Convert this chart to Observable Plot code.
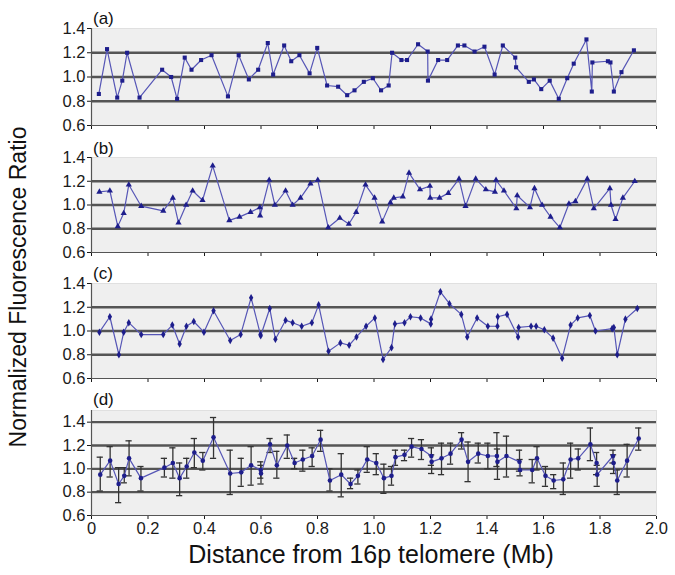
<!DOCTYPE html>
<html><head><meta charset="utf-8">
<script src="https://cdn.jsdelivr.net/npm/d3@7"></script>
<script src="https://cdn.jsdelivr.net/npm/@observablehq/plot@0.6"></script>
<style>
body{margin:0;background:#fff;}
#chart{position:relative;width:675px;height:575px;font-family:"Liberation Sans",Arial,sans-serif;overflow:hidden;}
.panel{position:absolute;left:0;}
.lab{position:absolute;font-size:17px;line-height:1;color:#111;white-space:nowrap;}
</style></head><body><div id="chart"></div>
<script>
// ---- data ----
const xTicks = [0,0.2,0.4,0.6,0.8,1.0,1.2,1.4,1.6,1.8,2.0];
const yTicks = [0.6,0.8,1.0,1.2,1.4];
const panelLabels = ["(a)","(b)","(c)","(d)"];
const yTitle = "Normalized Fluorescence Ratio";
const xTitle = "Distance from 16p telomere (Mb)";

const xA = [0.026,0.055,0.091,0.109,0.126,0.170,0.250,0.282,0.303,0.330,0.354,0.388,0.425,0.483,0.521,0.557,0.590,0.624,0.643,0.682,0.707,0.736,0.772,0.799,0.834,0.873,0.905,0.931,0.964,0.996,1.025,1.052,1.064,1.097,1.117,1.156,1.190,1.191,1.227,1.259,1.297,1.320,1.356,1.391,1.427,1.456,1.500,1.503,1.548,1.566,1.592,1.622,1.654,1.684,1.707,1.752,1.771,1.773,1.828,1.837,1.849,1.876,1.920];
const yA = [0.86,1.23,0.83,0.97,1.20,0.83,1.06,1.00,0.82,1.16,1.06,1.14,1.18,0.84,1.18,0.98,1.06,1.28,1.02,1.26,1.13,1.18,1.03,1.24,0.93,0.92,0.85,0.89,0.96,0.99,0.89,0.93,1.20,1.14,1.14,1.27,1.21,0.97,1.14,1.14,1.26,1.26,1.21,1.25,1.02,1.26,1.16,1.08,0.96,0.98,0.90,0.97,0.82,0.99,1.11,1.31,0.88,1.12,1.13,1.12,0.88,1.04,1.22];

const xB = [0.028,0.065,0.093,0.114,0.132,0.176,0.254,0.288,0.308,0.335,0.358,0.393,0.429,0.488,0.524,0.563,0.596,0.597,0.629,0.649,0.687,0.712,0.740,0.775,0.801,0.838,0.879,0.911,0.937,0.970,1.002,1.029,1.058,1.070,1.102,1.124,1.163,1.198,1.199,1.232,1.263,1.301,1.324,1.360,1.396,1.428,1.432,1.460,1.504,1.507,1.552,1.568,1.595,1.625,1.658,1.690,1.713,1.755,1.778,1.835,1.839,1.855,1.881,1.923];
const yB = [1.11,1.12,0.82,0.93,1.17,0.99,0.95,1.06,0.85,1.00,1.12,1.04,1.33,0.87,0.90,0.94,0.98,0.91,1.21,1.00,1.12,1.00,1.06,1.18,1.21,0.81,0.89,0.84,0.94,1.17,1.06,0.86,1.02,1.06,1.07,1.27,1.13,1.16,1.06,1.06,1.10,1.22,0.99,1.22,1.13,1.11,1.21,1.12,0.97,1.08,0.98,1.14,1.00,0.90,0.81,1.01,1.03,1.22,0.97,1.14,1.00,0.88,1.06,1.20];

const xC = [0.028,0.065,0.097,0.114,0.132,0.176,0.254,0.286,0.312,0.336,0.362,0.398,0.432,0.491,0.528,0.565,0.598,0.599,0.631,0.651,0.687,0.712,0.744,0.780,0.804,0.839,0.881,0.912,0.938,0.972,1.003,1.032,1.062,1.074,1.108,1.129,1.165,1.201,1.202,1.235,1.267,1.309,1.330,1.365,1.403,1.437,1.438,1.471,1.510,1.512,1.556,1.574,1.603,1.634,1.666,1.696,1.721,1.764,1.784,1.843,1.849,1.861,1.890,1.932];
const yC = [0.99,1.12,0.80,0.99,1.07,0.97,0.97,1.05,0.89,1.04,1.08,0.99,1.17,0.92,0.97,1.28,0.97,0.96,1.19,0.93,1.09,1.07,1.04,1.07,1.22,0.83,0.90,0.88,0.95,1.04,1.11,0.76,0.86,1.06,1.07,1.12,1.11,1.06,1.10,1.33,1.23,1.14,0.95,1.11,1.04,1.04,1.12,1.14,0.95,1.03,1.04,1.04,1.01,0.94,0.77,1.05,1.11,1.13,1.00,1.02,1.03,0.80,1.10,1.19];

const xD = [0.031,0.066,0.096,0.116,0.133,0.175,0.258,0.288,0.312,0.337,0.364,0.394,0.432,0.491,0.530,0.565,0.599,0.600,0.632,0.656,0.693,0.719,0.748,0.781,0.811,0.844,0.884,0.917,0.943,0.976,1.008,1.035,1.062,1.076,1.108,1.133,1.168,1.203,1.204,1.239,1.271,1.310,1.333,1.369,1.403,1.435,1.437,1.469,1.515,1.517,1.560,1.577,1.607,1.636,1.670,1.696,1.723,1.766,1.788,1.790,1.846,1.848,1.861,1.896,1.937];
const yD = [0.95,1.07,0.87,0.94,1.09,0.92,1.01,1.05,0.92,1.02,1.14,1.07,1.27,0.96,0.97,1.03,0.99,0.96,1.21,1.03,1.20,1.05,1.08,1.11,1.25,0.90,0.95,0.87,0.94,1.08,1.05,0.92,0.94,1.10,1.12,1.19,1.17,1.11,1.06,1.09,1.13,1.25,1.06,1.13,1.11,1.11,1.06,1.11,1.06,0.99,0.99,1.09,0.94,0.90,0.91,1.08,1.09,1.21,1.05,0.95,1.11,1.05,0.90,1.07,1.26];
const hiD = [1.10,1.19,1.01,1.01,1.24,1.02,1.09,1.18,1.05,1.09,1.26,1.14,1.44,1.16,1.09,1.19,1.06,1.03,1.26,1.15,1.29,1.09,1.16,1.18,1.33,1.00,1.13,0.92,0.99,1.19,1.13,1.04,1.02,1.16,1.16,1.26,1.25,1.18,1.12,1.22,1.22,1.31,1.23,1.22,1.22,1.31,1.17,1.28,1.16,1.08,1.08,1.19,1.02,0.95,1.05,1.22,1.17,1.35,1.14,1.03,1.16,1.12,0.99,1.21,1.35];
const loD = [0.81,0.93,0.71,0.88,0.94,0.81,0.93,0.92,0.77,0.92,1.01,0.99,1.09,0.78,0.85,0.86,0.92,0.87,1.14,0.92,1.09,1.00,0.98,1.02,1.15,0.81,0.76,0.83,0.87,0.97,0.95,0.79,0.86,1.03,1.07,1.10,1.08,1.03,0.96,0.95,1.04,1.17,0.89,1.05,1.00,1.02,0.91,0.93,0.98,0.94,0.88,0.99,0.85,0.83,0.78,0.92,0.99,1.07,0.95,0.85,1.05,0.96,0.78,0.93,1.16];

// ---- drawing ----
const chart = document.getElementById("chart");
const FONT = "'Liberation Sans', Arial, sans-serif";
const lineColor = "#5656b6";
const dotColor = "#1e1e8c";

function makePanel(opts) {
  const {xs, ys, hi, lo, symbol, top, plotH, yMax, grid, showX, mTop, mBottom} = opts;
  const data = xs.map((x, i) => ({x, y: ys[i], hi: hi ? hi[i] : null, lo: lo ? lo[i] : null}));
  const marks = [
    Plot.frame({fill: "#efefef", stroke: "#e0e0e0"}),
    Plot.ruleY(grid, {stroke: "#555", strokeWidth: 2.4}),
    Plot.ruleX([0], {stroke: "#555", strokeWidth: 1.2}),
    Plot.ruleY([0.6], {stroke: "#555", strokeWidth: 1.2})
  ];
  if (hi) {
    marks.push(
      Plot.ruleX(data, {x: "x", y1: "lo", y2: "hi", stroke: "#333", strokeWidth: 1.3}),
      Plot.ruleY(data, {y: "hi", x1: d => d.x - 0.011, x2: d => d.x + 0.011, stroke: "#333", strokeWidth: 1.3}),
      Plot.ruleY(data, {y: "lo", x1: d => d.x - 0.011, x2: d => d.x + 0.011, stroke: "#333", strokeWidth: 1.3})
    );
  }
  marks.push(
    Plot.line(data, {x: "x", y: "y", stroke: lineColor, strokeWidth: 1.2}),
    Plot.dot(data, {x: "x", y: "y", symbol, r: 2.3, fill: dotColor, stroke: "none"})
  );
  const svg = Plot.plot({
    width: 675,
    height: mTop + plotH + mBottom,
    marginLeft: 91,
    marginRight: 19,
    marginTop: mTop,
    marginBottom: mBottom,
    style: {fontFamily: FONT, fontSize: "16.5px", color: "#1a1a1a", background: "transparent", overflow: "visible"},
    x: {domain: [0, 2], ticks: xTicks, tickSize: 4, tickPadding: 3, label: null,
        tickFormat: showX ? (d => d === 0 ? "0" : d.toFixed(1)) : (() => "")},
    y: {domain: [0.6, yMax], ticks: yTicks, tickSize: 4, tickPadding: 2, label: null,
        tickFormat: d => d.toFixed(1)},
    marks
  });
  svg.classList.add("panel");
  svg.style.top = (top - mTop) + "px";
  chart.appendChild(svg);
}

makePanel({xs: xA, ys: yA, symbol: "square", top: 28, plotH: 97, yMax: 1.4, grid: [0.8, 1.0, 1.2], showX: false, mTop: 10, mBottom: 10});
makePanel({xs: xB, ys: yB, symbol: "triangle", top: 157, plotH: 95, yMax: 1.4, grid: [0.8, 1.0, 1.2], showX: false, mTop: 10, mBottom: 10});
makePanel({xs: xC, ys: yC, symbol: "diamond", top: 283, plotH: 95, yMax: 1.4, grid: [0.8, 1.0, 1.2], showX: false, mTop: 10, mBottom: 10});
makePanel({xs: xD, ys: yD, hi: hiD, lo: loD, symbol: "circle", top: 410, plotH: 105, yMax: 1.5, grid: [0.8, 1.0, 1.2, 1.4], showX: true, mTop: 10, mBottom: 30});

// panel labels
const labelTops = [10, 140, 265, 391];
panelLabels.forEach((t, i) => {
  const d = document.createElement("div");
  d.className = "lab";
  d.textContent = t;
  d.style.left = "93px";
  d.style.top = labelTops[i] + "px";
  chart.appendChild(d);
});

// axis titles
const yt = document.createElement("div");
yt.textContent = yTitle;
yt.style.cssText = "position:absolute;left:18px;top:287px;font-size:23px;line-height:1;color:#111;white-space:nowrap;transform:translate(-50%,-50%) rotate(-90deg);";
chart.appendChild(yt);

const xt = document.createElement("div");
xt.textContent = xTitle;
xt.style.cssText = "position:absolute;left:371px;top:554px;font-size:25px;line-height:1;color:#111;white-space:nowrap;transform:translate(-50%,-50%);";
chart.appendChild(xt);
</script></body></html>
